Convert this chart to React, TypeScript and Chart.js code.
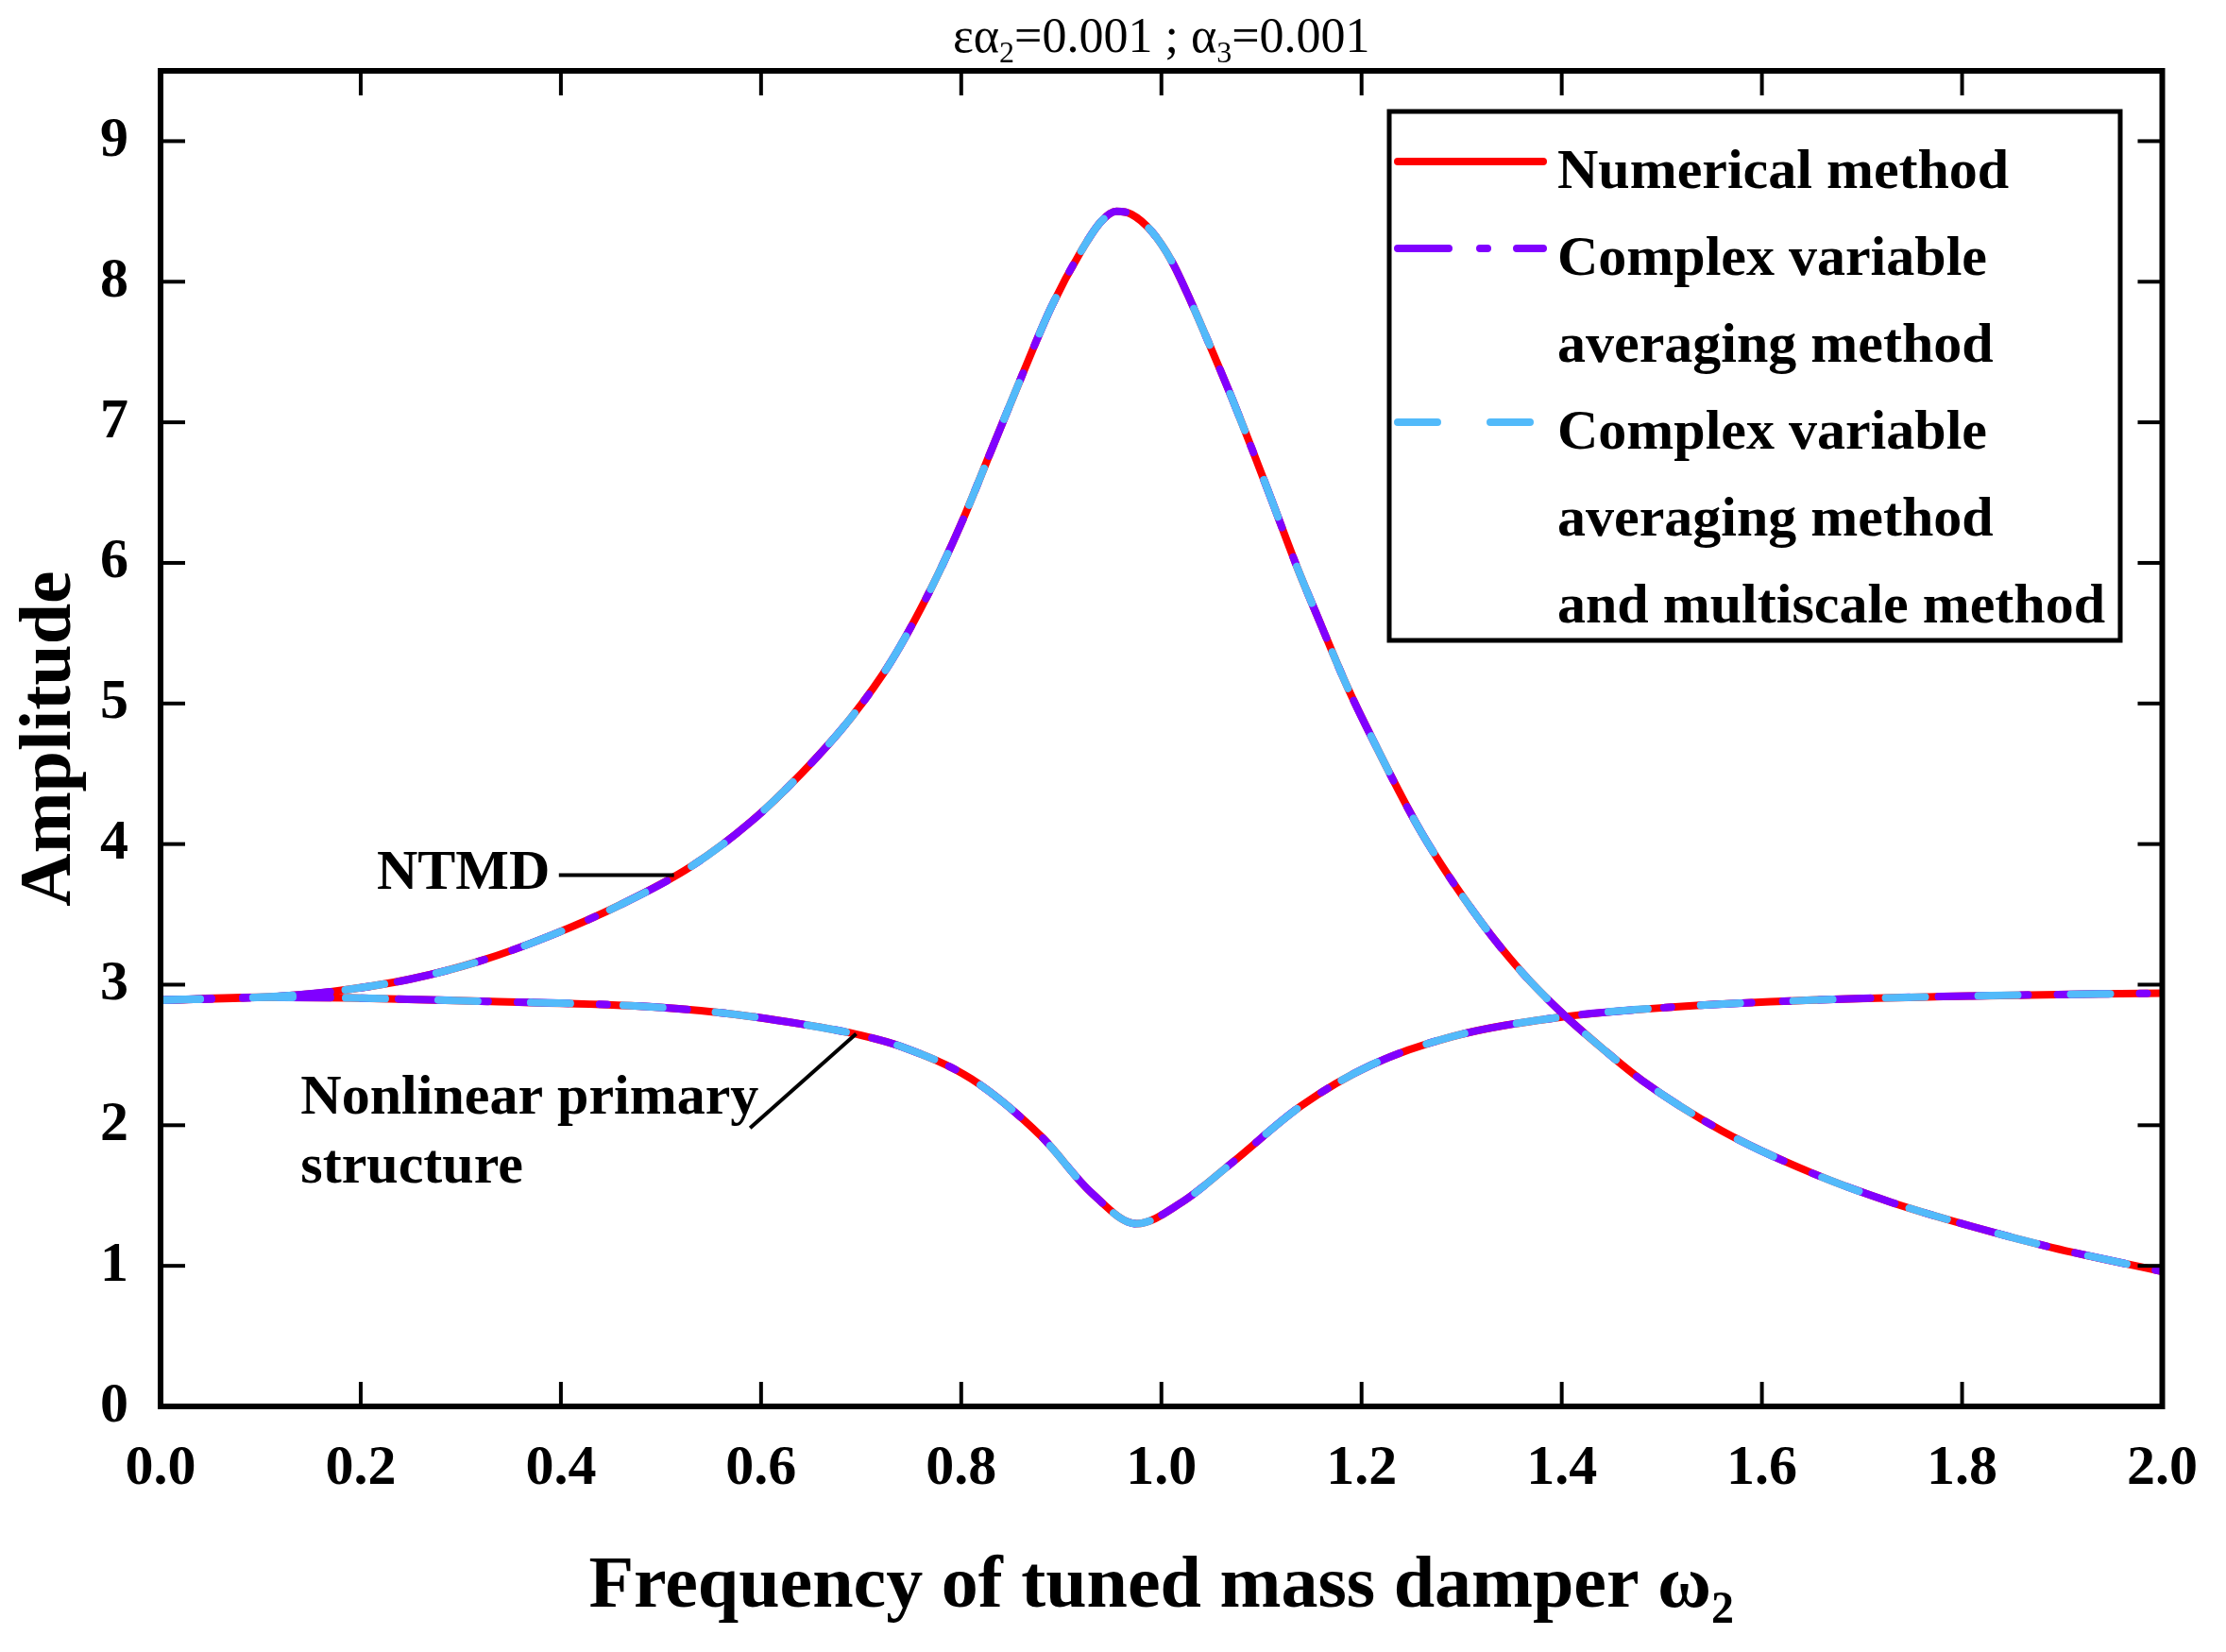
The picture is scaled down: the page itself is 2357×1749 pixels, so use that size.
import { useEffect, useRef } from 'react';
import { Chart, registerables } from 'chart.js';

Chart.register(...registerables);

const W = 2357;
const H = 1749;
const SERIF = '"Liberation Serif", "Times New Roman", serif';

// NTMD amplitude vs. frequency of the tuned mass damper
const ntmdFreq = [0.0, 0.1, 0.17, 0.25, 0.32, 0.39, 0.46, 0.53, 0.59, 0.64, 0.69, 0.73, 0.77, 0.8, 0.83, 0.86, 0.89, 0.92, 0.94, 0.955, 0.97, 0.99, 1.01, 1.03, 1.05, 1.07, 1.09, 1.11, 1.135, 1.16, 1.185, 1.21, 1.26, 1.32, 1.36, 1.4, 1.44, 1.48, 1.56, 1.65, 1.73, 1.81, 1.89, 2.0];
const ntmdAmp = [2.89, 2.91, 2.95, 3.04, 3.17, 3.35, 3.57, 3.84, 4.16, 4.5, 4.9, 5.3, 5.82, 6.28, 6.8, 7.32, 7.82, 8.22, 8.43, 8.5, 8.48, 8.36, 8.15, 7.85, 7.52, 7.18, 6.82, 6.45, 5.98, 5.55, 5.13, 4.76, 4.08, 3.44, 3.09, 2.8, 2.55, 2.32, 1.96, 1.66, 1.45, 1.28, 1.13, 0.96];

// nonlinear primary structure amplitude
const primaryFreq = [0.0, 0.1, 0.19, 0.33, 0.47, 0.56, 0.64, 0.7, 0.74, 0.81, 0.88, 0.93, 0.975, 1.02, 1.07, 1.14, 1.21, 1.29, 1.4, 1.51, 1.65, 1.81, 2.0];
const primaryAmp = [2.89, 2.91, 2.905, 2.88, 2.85, 2.8, 2.72, 2.64, 2.56, 2.33, 1.92, 1.52, 1.3, 1.45, 1.73, 2.14, 2.43, 2.63, 2.77, 2.84, 2.89, 2.92, 2.94];

const methodNames = [
  ['Numerical method'],
  ['Complex variable', 'averaging method'],
  ['Complex variable', 'averaging method', 'and multiscale method'],
];
const methodColors = ['#ff0000', '#8000ff', '#52bafa'];
const methodDashes = [[], [54, 33, 8, 31], [42, 56]];

const xMin = 0;
const xMax = 2;
const xStep = 0.2;
const yMin = 0;
const yMax = 9.5;
const yStep = 1;

const toPoints = (xs: number[], ys: number[]) => xs.map((x, i) => ({ x, y: ys[i] }));

type Part = { t: string; sub?: boolean };

function drawRich(ctx: CanvasRenderingContext2D, parts: Part[], cx: number, baseY: number, size: number, weight: string) {
  const subSize = Math.round(size * 0.62);
  const fontOf = (p: Part) => `${weight} ${p.sub ? subSize : size}px ${SERIF}`;
  let total = 0;
  parts.forEach((p) => {
    ctx.font = fontOf(p);
    total += ctx.measureText(p.t).width;
  });
  let x = cx - total / 2;
  ctx.textAlign = 'left';
  ctx.textBaseline = 'alphabetic';
  parts.forEach((p) => {
    ctx.font = fontOf(p);
    ctx.fillText(p.t, x, p.sub ? baseY + size * 0.22 : baseY);
    x += ctx.measureText(p.t).width;
  });
}

const framePlugin = {
  id: 'frame',
  afterDraw(chart: any) {
    const { ctx, chartArea: a, scales } = chart;
    const xs = scales.x;
    const ys = scales.y;
    const line = (x1: number, y1: number, x2: number, y2: number) => {
      ctx.beginPath();
      ctx.moveTo(x1, y1);
      ctx.lineTo(x2, y2);
      ctx.stroke();
    };
    ctx.save();
    ctx.strokeStyle = '#000';
    ctx.fillStyle = '#000';
    ctx.lineCap = 'butt';

    // inward ticks on all four sides
    ctx.lineWidth = 4;
    const tl = 26;
    xs.ticks.forEach((t: any) => {
      const px = xs.getPixelForValue(t.value);
      line(px, a.bottom, px, a.bottom - tl);
      line(px, a.top, px, a.top + tl);
    });
    ys.ticks.forEach((t: any) => {
      const py = ys.getPixelForValue(t.value);
      line(a.left, py, a.left + tl, py);
      line(a.right, py, a.right - tl, py);
    });

    // frame
    ctx.lineWidth = 6;
    ctx.strokeRect(a.left, a.top, a.right - a.left, a.bottom - a.top);

    // title
    ctx.fillStyle = '#000';
    drawRich(ctx, [{ t: 'εα' }, { t: '2', sub: true }, { t: '=0.001 ; α' }, { t: '3', sub: true }, { t: '=0.001' }], (a.left + a.right) / 2, 55, 52, 'normal');

    // x axis title
    drawRich(ctx, [{ t: 'Frequency of tuned mass damper ω' }, { t: '2', sub: true }], (a.left + a.right) / 2, 1701, 78, 'bold');

    // y axis title
    ctx.save();
    ctx.translate(74, (a.top + a.bottom) / 2);
    ctx.rotate(-Math.PI / 2);
    ctx.font = `bold 78px ${SERIF}`;
    ctx.textAlign = 'center';
    ctx.textBaseline = 'alphabetic';
    ctx.fillText('Amplitude', 0, 0);
    ctx.restore();

    // annotations
    ctx.font = `bold 60px ${SERIF}`;
    ctx.textAlign = 'left';
    ctx.textBaseline = 'alphabetic';
    ctx.fillText('NTMD', xs.getPixelForValue(0.216), ys.getPixelForValue(3.68));
    ctx.fillText('Nonlinear primary', xs.getPixelForValue(0.14), ys.getPixelForValue(2.08));
    ctx.fillText('structure', xs.getPixelForValue(0.14), ys.getPixelForValue(1.59));
    ctx.lineWidth = 4;
    line(xs.getPixelForValue(0.398), ys.getPixelForValue(3.78), xs.getPixelForValue(0.513), ys.getPixelForValue(3.78));
    line(xs.getPixelForValue(0.589), ys.getPixelForValue(1.98), xs.getPixelForValue(0.695), ys.getPixelForValue(2.65));

    // legend
    const lx = 1471;
    const ly = 118;
    const lw = 774;
    const lh = 560;
    ctx.fillStyle = '#fff';
    ctx.fillRect(lx, ly, lw, lh);
    ctx.lineWidth = 5;
    ctx.strokeStyle = '#000';
    ctx.strokeRect(lx, ly, lw, lh);
    let base = 199;
    const rowGap = 92;
    methodNames.forEach((lines, i) => {
      ctx.save();
      ctx.strokeStyle = methodColors[i];
      ctx.lineWidth = 8;
      ctx.lineCap = 'round';
      ctx.setLineDash(methodDashes[i]);
      line(1480, base - 28, 1634, base - 28);
      ctx.restore();
      ctx.fillStyle = '#000';
      ctx.font = `bold 60px ${SERIF}`;
      lines.forEach((txt) => {
        ctx.fillText(txt, 1649, base);
        base += rowGap;
      });
    });
    ctx.restore();
  },
};

const App = () => {
  const canvasRef = useRef<HTMLCanvasElement | null>(null);

  useEffect(() => {
    const ctx = canvasRef.current!.getContext('2d')!;
    const datasets: any[] = [];
    methodNames.forEach((names, i) => {
      [toPoints(ntmdFreq, ntmdAmp), toPoints(primaryFreq, primaryAmp)].forEach((pts) => {
        datasets.push({
          label: names.join(' '),
          data: pts,
          borderColor: methodColors[i],
          borderWidth: 8,
          borderDash: methodDashes[i],
          borderCapStyle: i === 0 ? 'butt' : 'round',
          pointRadius: 0,
          fill: false,
          cubicInterpolationMode: 'monotone',
          order: 3 - i,
        });
      });
    });

    const tickFont = { family: SERIF, size: 60, weight: 'bold' as const };

    const chart = new Chart(ctx, {
      type: 'line',
      data: { datasets },
      options: {
        animation: false,
        responsive: false,
        layout: { padding: { top: 75, right: 62, left: 0, bottom: 0 } },
        plugins: {
          legend: { display: false },
          title: { display: false },
          tooltip: { enabled: false },
        },
        scales: {
          x: {
            type: 'linear',
            min: xMin,
            max: xMax,
            grid: { display: false, drawTicks: false },
            border: { display: false },
            ticks: {
              stepSize: xStep,
              color: '#000',
              font: tickFont,
              padding: 30,
              maxRotation: 0,
              autoSkip: false,
              callback: (v: any) => Number(v).toFixed(1),
            },
            afterFit: (s: any) => {
              s.height = 260;
            },
          },
          y: {
            type: 'linear',
            min: yMin,
            max: yMax,
            grid: { display: false, drawTicks: false },
            border: { display: false },
            ticks: {
              stepSize: yStep,
              includeBounds: false,
              color: '#000',
              font: tickFont,
              padding: 34,
            },
            afterFit: (s: any) => {
              s.width = 170;
            },
          },
        },
      },
      plugins: [framePlugin],
    });

    return () => {
      chart.destroy();
    };
  }, []);

  return (
    <div style={{ position: 'fixed', left: 0, top: 0, width: W, height: H, background: '#fff' }}>
      <canvas ref={canvasRef} width={W} height={H} style={{ width: W, height: H }} />
    </div>
  );
};

export default App;
